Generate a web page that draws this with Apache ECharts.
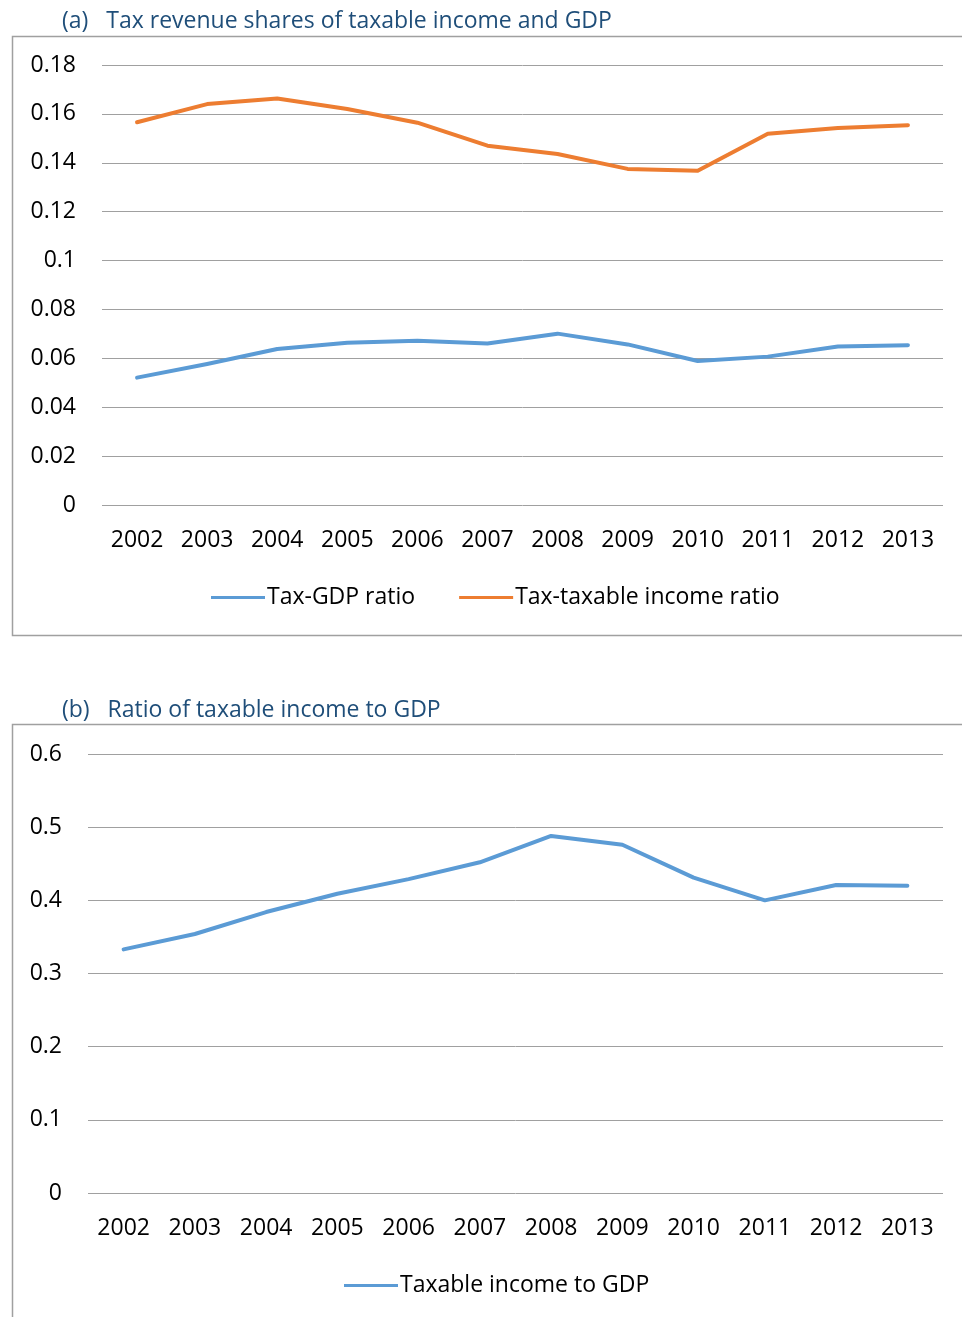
<!DOCTYPE html>
<html>
<head>
<meta charset="utf-8">
<script src="https://cdn.jsdelivr.net/npm/echarts@6/dist/echarts.min.js"></script>
<style>
  html, body { margin: 0; padding: 0; background: #fff; }
  #chart { width: 962px; height: 1317px; }
</style>
</head>
<body>
<div id="chart"></div>
<script>
// Years shared by both panels
const years = ['2002', '2003', '2004', '2005', '2006', '2007', '2008', '2009', '2010', '2011', '2012', '2013'];

// Panel (a): tax revenue as a share of GDP and of taxable income
const taxGdpRatio = [0.0521, 0.0577, 0.0638, 0.0664, 0.0672, 0.0661, 0.0701, 0.0657, 0.0589, 0.0607, 0.0648, 0.0654];
const taxTaxableIncomeRatio = [0.1566, 0.1640, 0.1663, 0.1620, 0.1564, 0.1470, 0.1436, 0.1375, 0.1367, 0.1519, 0.1542, 0.1554];

// Panel (b): taxable income relative to GDP
const taxableIncomeToGdp = [0.333, 0.354, 0.384, 0.409, 0.429, 0.452, 0.488, 0.476, 0.431, 0.400, 0.421, 0.420];

// Axis tick settings
const axisA = { min: 0, max: 0.18, interval: 0.02 };
const axisB = { min: 0, max: 0.6, interval: 0.1 };

const titleA = '(a)   Tax revenue shares of taxable income and GDP';
const titleB = '(b)   Ratio of taxable income to GDP';

const FONT = '"Open Sans", "Noto Sans", sans-serif';
const FS = 23;
const BLUE = '#5B9BD5';
const ORANGE = '#ED7D31';
const GRID = '#a0a0a0';

const chart = echarts.init(document.getElementById('chart'), null, { renderer: 'canvas' });

function xAxis(gridIndex) {
  return {
    type: 'category', gridIndex, data: years, boundaryGap: true,
    axisLine: { show: false }, axisTick: { show: false },
    axisLabel: { color: '#000', fontFamily: FONT, fontSize: FS, margin: 24 }
  };
}
function yAxis(gridIndex, cfg) {
  return {
    type: 'value', gridIndex, min: cfg.min, max: cfg.max, interval: cfg.interval,
    axisLine: { show: false }, axisTick: { show: false },
    axisLabel: { color: '#000', fontFamily: FONT, fontSize: FS, margin: 26,
      formatter: v => String(+v.toFixed(2)) },
    splitLine: { lineStyle: { color: GRID, width: 1 } }
  };
}
function line(name, data, color, axisIndex) {
  return {
    name, type: 'line', data, xAxisIndex: axisIndex, yAxisIndex: axisIndex,
    symbol: 'none', smooth: false, animation: false,
    lineStyle: { color, width: 4, cap: 'round', join: 'round' },
    itemStyle: { color }
  };
}

chart.setOption({
  animation: false,
  title: [
    { text: titleA, left: 57, top: 5, textStyle: { color: '#1F4E79', fontFamily: FONT, fontSize: FS, fontWeight: 'normal' } },
    { text: titleB, left: 57, top: 694, textStyle: { color: '#1F4E79', fontFamily: FONT, fontSize: FS, fontWeight: 'normal' } }
  ],
  graphic: [
    { type: 'rect', z: -1, silent: true, shape: { x: 12.5, y: 36.5, width: 1000, height: 599 },
      style: { fill: 'none', stroke: '#a0a0a0', lineWidth: 1.5 } },
    { type: 'rect', z: -1, silent: true, shape: { x: 12.5, y: 724.5, width: 1000, height: 700 },
      style: { fill: 'none', stroke: '#a0a0a0', lineWidth: 1.5 } }
  ],
  grid: [
    { left: 102, right: 19, top: 65, height: 440 },
    { left: 88, right: 19, top: 754, height: 439 }
  ],
  xAxis: [xAxis(0), xAxis(1)],
  yAxis: [yAxis(0, axisA), yAxis(1, axisB)],
  legend: [
    { data: ['Tax-GDP ratio', 'Tax-taxable income ratio'], left: 206, top: 581, icon: 'rect',
      itemWidth: 54, itemHeight: 3, itemGap: 44,
      textStyle: { color: '#000', fontFamily: FONT, fontSize: FS, padding: [0, 0, 0, -3] } },
    { data: ['Taxable income to GDP'], left: 339, top: 1269, icon: 'rect',
      itemWidth: 54, itemHeight: 3,
      textStyle: { color: '#000', fontFamily: FONT, fontSize: FS, padding: [0, 0, 0, -3] } }
  ],
  series: [
    line('Tax-GDP ratio', taxGdpRatio, BLUE, 0),
    line('Tax-taxable income ratio', taxTaxableIncomeRatio, ORANGE, 0),
    line('Taxable income to GDP', taxableIncomeToGdp, BLUE, 1)
  ]
});
</script>
</body>
</html>
